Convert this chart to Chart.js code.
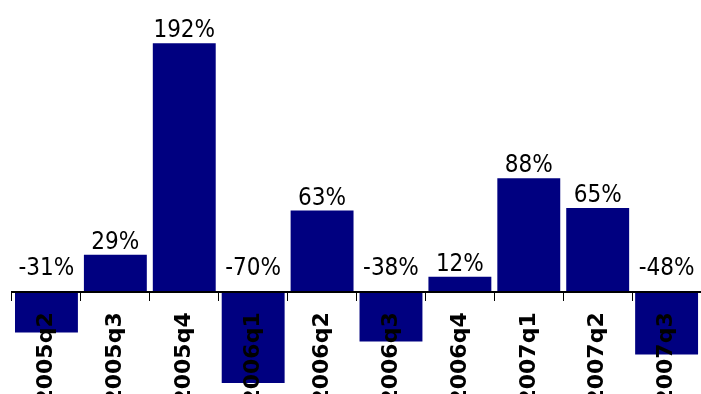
<!DOCTYPE html>
<html>
<head>
<meta charset="utf-8">
<script src="https://cdn.jsdelivr.net/npm/chart.js@4.4.0/dist/chart.umd.min.js"></script>
<style>
html, body { margin: 0; padding: 0; background: #fff; overflow: hidden; }
</style>
</head>
<body>
<canvas id="growthChart" width="705" height="396"></canvas>
<script>
// quarterly growth, in percent
const quarters = ['2005q2', '2005q3', '2005q4', '2006q1', '2006q2', '2006q3', '2006q4', '2007q1', '2007q2', '2007q3'];
const growth = [-31, 29, 192, -70, 63, -38, 12, 88, 65, -48];
const yMin = -80;
const yMax = 200;

// percent labels over each bar (negatives sit above the zero line)
const valueLabels = {
    id: 'valueLabels',
    afterDatasetsDraw(chart) {
        const ctx = chart.ctx;
        const meta = chart.getDatasetMeta(0);
        const zeroY = chart.scales.y.getPixelForValue(0);
        ctx.save();
        ctx.font = '24px "DejaVu Sans Condensed", "DejaVu Sans"';
        ctx.fillStyle = '#000';
        ctx.textAlign = 'center';
        ctx.textBaseline = 'alphabetic';
        meta.data.forEach((bar, i) => {
            const v = growth[i];
            const y = v >= 0 ? bar.y - 6 : zeroY - 17;
            ctx.fillText(v + '%', bar.x, y);
        });
        ctx.restore();
    }
};

const ctx = document.getElementById('growthChart').getContext('2d');

new Chart(ctx, {
    type: 'bar',
    data: {
        labels: quarters,
        datasets: [{
            data: growth,
            backgroundColor: '#000080',
            borderWidth: 0,
            barPercentage: 0.913,
            categoryPercentage: 1
        }]
    },
    options: {
        responsive: false,
        animation: false,
        layout: { padding: { top: 33, left: 12, right: 0, bottom: 0 } },
        plugins: {
            legend: { display: false },
            tooltip: { enabled: false }
        },
        scales: {
            x: {
                position: { y: 0 },
                offset: true,
                grid: {
                    offset: true,
                    drawOnChartArea: false,
                    tickLength: 8,
                    color: '#000',
                    z: 1
                },
                border: { display: true, color: '#000', width: 2, z: 1 },
                ticks: {
                    color: '#000',
                    autoSkip: false,
                    minRotation: 90,
                    maxRotation: 90,
                    padding: 12,
                    z: 1,
                    font: { family: 'DejaVu Sans', weight: 'bold', size: 22 }
                }
            },
            y: {
                display: false,
                min: yMin,
                max: yMax
            }
        }
    },
    plugins: [valueLabels]
});
</script>
</body>
</html>
